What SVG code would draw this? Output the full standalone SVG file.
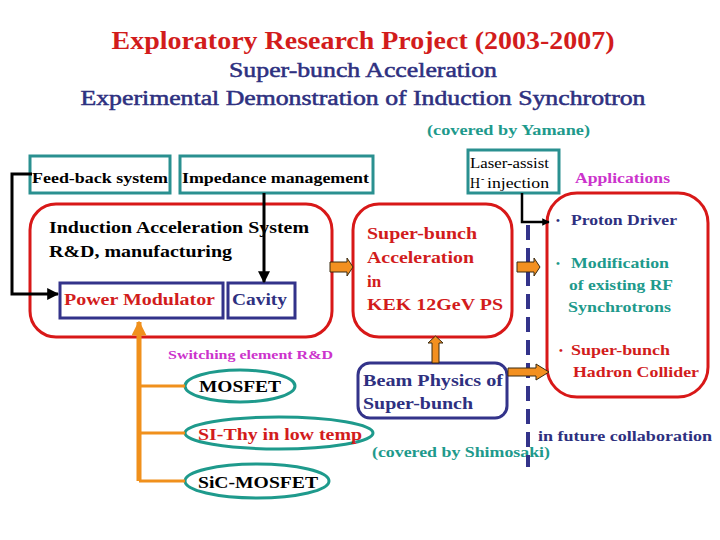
<svg xmlns="http://www.w3.org/2000/svg" width="720" height="540" viewBox="0 0 720 540">
<style>
.red{fill:#d21c1c}
.navy{fill:#2e3080}
.teal{fill:#1e9a8c}
.mag{fill:#cc33cc}
.blk{fill:#000}
.tbox{fill:none;stroke:#2a9090;stroke-width:3}
.rbox{fill:none;stroke:#d81818;stroke-width:3}
.nbox{fill:none;stroke:#33338a;stroke-width:3}
.ell{fill:none;stroke:#1e9a8c;stroke-width:3}
.blkline{fill:none;stroke:#000;stroke-width:3}
.org{fill:none;stroke:#f0901c}
.barrow{fill:#f39020;stroke:#3a2a10;stroke-width:1}
</style>
<defs>
<marker id="ah" viewBox="0 0 10 10" refX="9" refY="5" markerWidth="4" markerHeight="4" orient="auto" markerUnits="strokeWidth">
<path d="M0,0L10,5L0,10z" fill="#000"/>
</marker>
<marker id="ahs" viewBox="0 0 10 10" refX="9" refY="5" markerWidth="3" markerHeight="3" orient="auto" markerUnits="strokeWidth">
<path d="M0,0L10,5L0,10z" fill="#000"/>
</marker>
<marker id="oah" viewBox="0 0 10 10" refX="9" refY="5" markerWidth="3" markerHeight="3" orient="auto" markerUnits="strokeWidth">
<path d="M0,0L10,5L0,10z" fill="#f0901c"/>
</marker>
</defs>
<rect width="720" height="540" fill="#fff"/>

<g font-family="Liberation Serif, serif" font-weight="bold">
<g id="title">
<text x="363" y="49" text-anchor="middle" font-size="25" class="red" textLength="503" lengthAdjust="spacingAndGlyphs">Exploratory Research Project (2003-2007)</text>
<text x="363" y="77" text-anchor="middle" font-size="20" class="navy" font-weight="normal" stroke="#2e3080" stroke-width="0.5" textLength="268" lengthAdjust="spacingAndGlyphs">Super-bunch Acceleration</text>
<text x="363" y="105" text-anchor="middle" font-size="20" class="navy" font-weight="normal" stroke="#2e3080" stroke-width="0.5" textLength="565" lengthAdjust="spacingAndGlyphs">Experimental Demonstration of Induction Synchrotron</text>
<text x="427" y="135" font-size="14" class="teal" textLength="163" lengthAdjust="spacingAndGlyphs">(covered by Yamane)</text>
</g>

<g id="feedback">
<rect class="tbox" x="30" y="156" width="140" height="37"/>
<text x="32" y="183" font-size="15" class="blk" textLength="136" lengthAdjust="spacingAndGlyphs">Feed-back system</text>
</g>

<g id="impedance">
<rect class="tbox" x="180" y="156" width="193" height="37"/>
<text x="182" y="183" font-size="15" class="blk" textLength="187" lengthAdjust="spacingAndGlyphs">Impedance management</text>
</g>

<g id="induction">
<rect class="rbox" x="30" y="204" width="302" height="133" rx="26"/>
<text x="49" y="233" font-size="17" class="blk" textLength="260" lengthAdjust="spacingAndGlyphs">Induction Acceleration System</text>
<text x="49" y="257" font-size="17" class="blk" textLength="183" lengthAdjust="spacingAndGlyphs">R&amp;D, manufacturing</text>
</g>

<g id="powermod">
<rect class="nbox" x="60" y="283" width="163" height="35"/>
<text x="64" y="305" font-size="17" class="red" textLength="151" lengthAdjust="spacingAndGlyphs">Power Modulator</text>
</g>

<g id="cavity">
<rect class="nbox" x="228" y="283" width="67" height="35"/>
<text x="232" y="305" font-size="17" class="navy" textLength="55" lengthAdjust="spacingAndGlyphs">Cavity</text>
</g>

<g id="superbunch">
<rect class="rbox" x="353" y="204" width="159" height="133" rx="26"/>
<text x="367" y="239" font-size="17" class="red" textLength="110" lengthAdjust="spacingAndGlyphs">Super-bunch</text>
<text x="367" y="263" font-size="17" class="red" textLength="107" lengthAdjust="spacingAndGlyphs">Acceleration</text>
<text x="367" y="287" font-size="17" class="red">in</text>
<text x="367" y="310" font-size="17" class="red" textLength="136" lengthAdjust="spacingAndGlyphs">KEK 12GeV PS</text>
</g>

<g id="laser">
<rect class="tbox" x="468" y="150" width="91" height="43"/>
<text x="470" y="168" font-size="14" class="blk" font-weight="normal" textLength="79" lengthAdjust="spacingAndGlyphs">Laser-assist</text>
<text x="470" y="188" font-size="14" class="blk" font-weight="normal">H</text>
<text x="481" y="182" font-size="10" class="blk" font-weight="normal">-</text>
<text x="487" y="188" font-size="14" class="blk" font-weight="normal" textLength="62" lengthAdjust="spacingAndGlyphs">injection</text>
</g>

<g id="applications">
<text x="575" y="183" font-size="15" class="mag" textLength="95" lengthAdjust="spacingAndGlyphs">Applications</text>
<rect class="rbox" x="547" y="193" width="161" height="204" rx="30"/>
<text x="556" y="224" font-size="11" class="navy">•</text>
<text x="571" y="225" font-size="15.5" class="navy" textLength="106" lengthAdjust="spacingAndGlyphs">Proton Driver</text>
<text x="556" y="267" font-size="11" class="teal">•</text>
<text x="571" y="268" font-size="15.5" class="teal" textLength="98" lengthAdjust="spacingAndGlyphs">Modification</text>
<text x="569" y="290" font-size="15.5" class="teal" textLength="104" lengthAdjust="spacingAndGlyphs">of existing RF</text>
<text x="568" y="312" font-size="15.5" class="teal" textLength="103" lengthAdjust="spacingAndGlyphs">Synchrotrons</text>
<text x="559" y="354" font-size="11" class="red">•</text>
<text x="571" y="355" font-size="15.5" class="red" textLength="99" lengthAdjust="spacingAndGlyphs">Super-bunch</text>
<text x="573" y="377" font-size="15.5" class="red" textLength="126" lengthAdjust="spacingAndGlyphs">Hadron Collider</text>
</g>

<g id="beamphysics">
<rect class="nbox" x="358" y="363" width="149" height="55" rx="12"/>
<text x="363" y="386" font-size="17" class="navy" textLength="140" lengthAdjust="spacingAndGlyphs">Beam Physics of</text>
<text x="363" y="409" font-size="17" class="navy" textLength="110" lengthAdjust="spacingAndGlyphs">Super-bunch</text>
</g>

<g id="switching">
<text x="168" y="359" font-size="13" class="mag" textLength="165" lengthAdjust="spacingAndGlyphs">Switching element R&amp;D</text>
</g>

<g id="mosfet">
<ellipse class="ell" cx="240" cy="386" rx="55" ry="16"/>
<text x="199" y="392" font-size="17" class="blk" textLength="82" lengthAdjust="spacingAndGlyphs">MOSFET</text>
</g>

<g id="sithy">
<ellipse class="ell" cx="279" cy="433" rx="94" ry="16"/>
<text x="198" y="440" font-size="17" class="red" textLength="164" lengthAdjust="spacingAndGlyphs">SI-Thy in low temp</text>
</g>

<g id="sic">
<ellipse class="ell" cx="257" cy="481" rx="72" ry="17"/>
<text x="198" y="488" font-size="17" class="blk" textLength="120" lengthAdjust="spacingAndGlyphs">SiC-MOSFET</text>
</g>

<g id="notes">
<text x="538" y="441" font-size="14" class="navy" textLength="174" lengthAdjust="spacingAndGlyphs">in future collaboration</text>
<text x="372" y="457" font-size="14" class="teal" textLength="178" lengthAdjust="spacingAndGlyphs">(covered by Shimosaki)</text>
</g>
</g>

<g id="connectors">
<polyline class="blkline" points="32,174 12,174 12,294 58,294" marker-end="url(#ah)"/>
<line class="blkline" x1="264" y1="193" x2="264" y2="282" marker-end="url(#ah)"/>
<polyline class="blkline" points="522,193 522,222 549,222" marker-end="url(#ahs)" style="stroke-width:2.5"/>
<line x1="528" y1="225" x2="528" y2="467" stroke="#33338a" stroke-width="4" stroke-dasharray="15,8"/>
<polyline class="org" points="139,481 139,322" stroke-width="5" marker-end="url(#oah)"/>
<line class="org" x1="139" y1="386" x2="185" y2="386" stroke-width="3"/>
<line class="org" x1="139" y1="433" x2="185" y2="433" stroke-width="3"/>
<line class="org" x1="139" y1="481" x2="185" y2="481" stroke-width="3"/>
<path class="barrow" d="M330,262 L347,262 L347,258 L353,267 L347,276 L347,272 L330,272 Z"/>
<path class="barrow" d="M517,262 L534,262 L534,258 L540,267 L534,276 L534,272 L517,272 Z"/>
<path class="barrow" d="M508,368 L536,368 L536,364 L549,372 L536,380 L536,376 L508,376 Z"/>
<path class="barrow" d="M432,363 L432,343 L428,343 L435.5,336 L443,343 L439,343 L439,363 Z"/>
</g>
</svg>
